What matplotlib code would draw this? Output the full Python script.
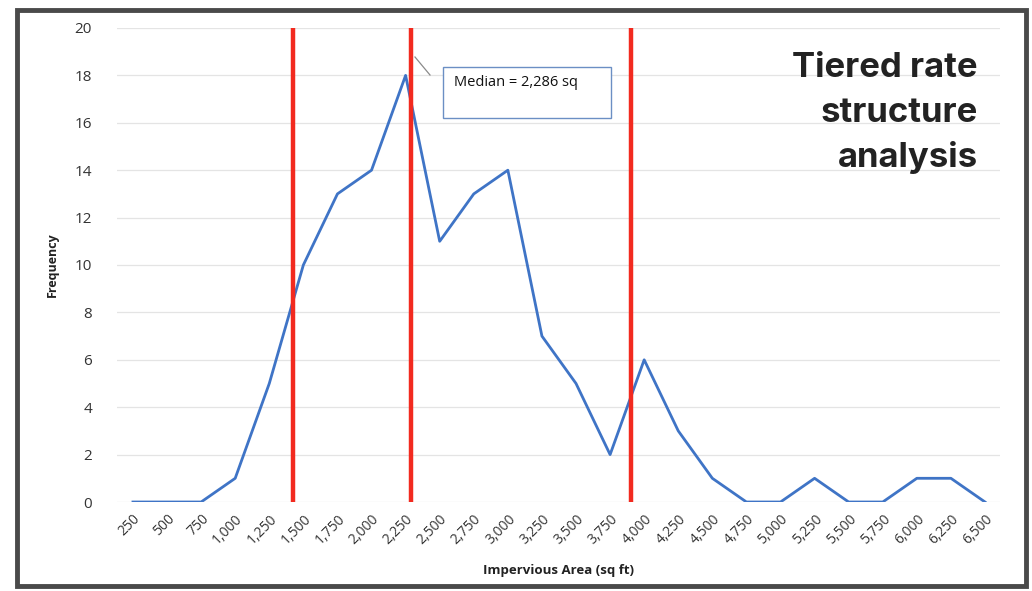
import matplotlib.pyplot as plt
from matplotlib.patches import Rectangle
from matplotlib.lines import Line2D

# impervious area bins (sq ft) and household counts
area_bins = list(range(250, 6501, 250))
frequency = [0, 0, 0, 1, 5, 10, 13, 14, 18, 11, 13, 14, 7, 5, 2, 6, 3, 1, 0, 0, 1, 0, 0, 1, 1, 0]
tier_breaks = [1425, 2286, 3900]
median_area = 2286
tick_labels = [f"{v:,}" for v in area_bins]


def main():
    plt.rcParams["font.family"] = ["Open Sans", "DejaVu Sans"]
    fig = plt.figure(figsize=(10.32, 5.91), dpi=100)
    W, H = 1032, 591

    def fx(px):
        return px / W

    def fy(py):
        return 1 - py / H

    ax = fig.add_axes([fx(117), fy(502), fx(1000) - fx(117), fy(28) - fy(502)])
    ax.plot(area_bins, frequency, color="#3f74c6", lw=2.0, zorder=3)
    for xb in tier_breaks:
        ax.plot([xb, xb], [0, 20], color="#f22a1f", lw=3.2, zorder=4,
                solid_capstyle="butt")

    ax.set_xlim(133, 6610)
    ax.set_ylim(0, 20)
    ax.set_yticks(range(0, 21, 2))
    ax.set_xticks(area_bins)
    ax.set_xticklabels(tick_labels, rotation=45, ha="right", rotation_mode="anchor",
                       fontsize=10, color="#333333")
    ax.tick_params(axis="y", labelsize=11, labelcolor="#333333", length=0, pad=18)
    ax.tick_params(axis="x", length=0, pad=7)
    ax.grid(axis="y", color="#e4e4e4", lw=0.9)
    ax.set_axisbelow(True)
    for s in ax.spines.values():
        s.set_visible(False)

    ax.set_ylabel("Frequency", fontsize=9, fontweight="bold", color="#222222", labelpad=11)
    ax.set_xlabel("Impervious Area (sq ft)", fontsize=9.5, fontweight="bold",
                  color="#222222", labelpad=12)

    # median callout box with leader line
    fig.add_artist(Rectangle((fx(443), fy(118)), fx(611) - fx(443), fy(67) - fy(118),
                             transform=fig.transFigure, facecolor="white",
                             edgecolor="#6b8fc4", lw=1.0, zorder=5))
    fig.text(fx(454), fy(83), f"Median = {median_area:,} sq", fontsize=10.5,
             color="#111111", va="center", ha="left", zorder=6)
    fig.add_artist(Line2D([fx(415), fx(430)], [fy(57), fy(75)], color="#8a8a8a",
                          lw=0.9, transform=fig.transFigure))

    fig.text(fx(978), fy(52), "Tiered rate\nstructure\nanalysis", fontsize=25,
             fontweight="bold", family=["Inter", "DejaVu Sans"], color="#222222",
             ha="right", va="top", linespacing=1.5)

    # outer frame
    fig.add_artist(Rectangle((fx(17), fy(586)), fx(1026) - fx(17), fy(10) - fy(586),
                             transform=fig.transFigure, facecolor="none",
                             edgecolor="#4a4a4a", lw=3.5, zorder=10))

    fig.savefig("out.png", dpi=100)


if __name__ == "__main__":
    main()
